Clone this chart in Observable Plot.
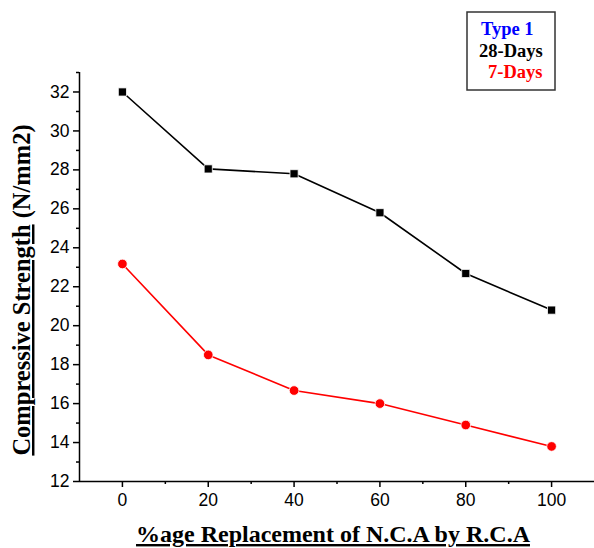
<!DOCTYPE html>
<html><head><meta charset="utf-8">
<script src="https://cdn.jsdelivr.net/npm/d3@7"></script>
<script src="https://cdn.jsdelivr.net/npm/@observablehq/plot@0.6"></script>
<style>body{margin:0;background:#fff} #chart{width:594px;height:548px}</style>
</head><body><div id="chart"></div>
<script>
const replacement = [0, 20, 40, 60, 80, 100];
const days28 = [32.0, 28.05, 27.8, 25.8, 22.68, 20.8];
const days7 = [23.17, 18.5, 16.67, 16.0, 14.9, 13.8];
const xTicks = [0, 20, 40, 60, 80, 100];
const xMinor = [10, 30, 50, 70, 90];
const yTicks = [12, 14, 16, 18, 20, 22, 24, 26, 28, 30, 32];
const yMinor = [13, 15, 17, 19, 21, 23, 25, 27, 29, 31, 33];
const legendItems = ["Type 1", "28-Days", "7-Days"];
const legendColors = ["#0000ff", "#000000", "#ff0000"];
const xTitle = "%age Replacement of N.C.A by R.C.A";
const yTitleMain = "Compressive Strength";
const yTitleUnit = " (N/mm2)";

const d28 = replacement.map((x, i) => ({x, y: days28[i]}));
const d7 = replacement.map((x, i) => ({x, y: days7[i]}));

const plot = Plot.plot({
  width: 594, height: 548,
  marginLeft: 79, marginRight: 0, marginTop: 72, marginBottom: 67,
  x: {domain: [-10, 110]},
  y: {domain: [12, 33]},
  style: {fontFamily: "'Liberation Sans', Arial, sans-serif", fontSize: "17px", color: "black", background: "white"},
  marks: [
    Plot.axisX({ticks: xTicks, tickSize: 6, tickPadding: 6, label: null, fontSize: 17.5, strokeWidth: 1.5}),
    Plot.axisX({ticks: xMinor, tickSize: 3, text: null, label: null, strokeWidth: 1.5}),
    Plot.axisY({ticks: yTicks, tickSize: 6, tickPadding: 4, label: null, fontSize: 17.5, strokeWidth: 1.5}),
    Plot.axisY({ticks: yMinor, tickSize: 3, text: null, label: null, strokeWidth: 1.5}),
    Plot.ruleY([12], {stroke: "black", strokeWidth: 1.5}),
    Plot.ruleX([-10], {stroke: "black", strokeWidth: 1.5}),
    Plot.line(d28, {x: "x", y: "y", stroke: "black", strokeWidth: 1.6}),
    Plot.line(d7, {x: "x", y: "y", stroke: "#ff0000", strokeWidth: 1.6}),
    Plot.dot(d28, {x: "x", y: "y", symbol: "square", r: 4.6, fill: "black", stroke: "white", strokeWidth: 0.8}),
    Plot.dot(d7, {x: "x", y: "y", symbol: "circle", r: 4.8, fill: "#ff0000", stroke: "white", strokeWidth: 0.8})
  ]
});

const svg = d3.select(plot);
const serif = "'Liberation Serif', 'Times New Roman', serif";
svg.append("text")
  .attr("x", 333).attr("y", 542)
  .attr("text-anchor", "middle")
  .attr("font-family", serif).attr("font-weight", "bold").attr("font-size", 24)
  .style("text-decoration", "underline")
  .attr("fill", "black")
  .text(xTitle);

const yt = svg.append("text")
  .attr("transform", "translate(30,290) rotate(-90)")
  .attr("text-anchor", "middle")
  .attr("font-family", serif).attr("font-weight", "bold").attr("font-size", 24.5)
  .attr("fill", "black");
yt.append("tspan").style("text-decoration", "underline").text(yTitleMain);
yt.append("tspan").text(yTitleUnit);

svg.append("rect")
  .attr("x", 467).attr("y", 12).attr("width", 88).attr("height", 78)
  .attr("fill", "white").attr("stroke", "#333").attr("stroke-width", 1.5);
const lx = [481, 479, 488];
const ly = [35, 57, 78];
legendItems.forEach((t, i) => {
  svg.append("text")
    .attr("x", lx[i]).attr("y", ly[i])
    .attr("text-anchor", "start")
    .attr("font-family", serif).attr("font-weight", "bold").attr("font-size", 18.5)
    .attr("fill", legendColors[i])
    .text(t);
});

document.getElementById("chart").appendChild(plot);
</script>
</body></html>
